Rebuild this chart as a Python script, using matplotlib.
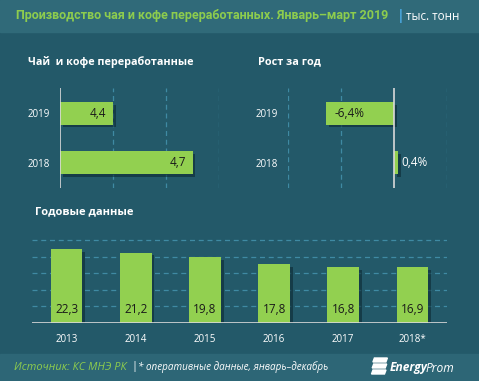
import numpy as np
import matplotlib
matplotlib.use('Agg')
import matplotlib.pyplot as plt
import matplotlib.patheffects as pe
from matplotlib.patches import Rectangle, Polygon

# data
q_years = ['2018', '2019']
q_values = [4.7, 4.4]
growth = [0.4, -6.4]
growth_labels = ['0,4%', '-6,4%']
annual_years = ['2013', '2014', '2015', '2016', '2017', '2018*']
annual_values = [22.3, 21.2, 19.8, 17.8, 16.8, 16.9]

BG = '#235969'
HEAD = '#306a79'
FOOT = '#2d6676'
GREEN = '#92d050'
TITLE_GREEN = '#8dcc4e'
GRID = '#3f8aa3'
FONT = 'Open Sans'

plt.rcParams['font.family'] = [FONT, 'DejaVu Sans']

W, H = 479, 381
fig = plt.figure(figsize=(W / 100, H / 100), dpi=100, facecolor=BG)
renderer = fig.canvas.get_renderer()

def fx(px):
    return px / W

def fy(py):
    return 1 - py / H

def fit(t, width_px):
    # shrink/grow a text so it takes the same width as in the reference
    w = t.get_window_extent(renderer).width
    t.set_fontsize(t.get_fontsize() * width_px / w)
    return t

# header and footer bands
fig.patches.append(Rectangle((0, fy(32)), 1, 32 / H, transform=fig.transFigure,
                             color=HEAD, zorder=0))
fig.patches.append(Rectangle((0, 0), 1, (H - 354) / H, transform=fig.transFigure,
                             color=FOOT, zorder=0))

t = fig.text(fx(16), fy(16), 'Производство чая и кофе переработанных. Январь–март 2019',
             color=TITLE_GREEN, fontsize=9.5, fontweight='bold', va='center', ha='left',
             family=['Roboto', 'Open Sans'])
fit(t, 377)
fig.text(fx(397), fy(16), '|', color='#4aa8e0', fontsize=10, fontweight='bold', va='center')
t = fig.text(fx(406), fy(16), 'тыс. тонн', color='white', fontsize=8.5, va='center')
fit(t, 53)

shadow = [pe.SimplePatchShadow(offset=(2, -2), shadow_rgbFace='#0d2a33', alpha=0.6), pe.Normal()]

def style_hbar(ax):
    ax.set_facecolor('none')
    for s in ax.spines.values():
        s.set_visible(False)
    ax.tick_params(length=0, labelbottom=False, pad=7.2)
    ax.set_ylim(-0.51, 1.51)
    ax.set_yticks([0, 1])
    ax.set_yticklabels(q_years, color='white', fontsize=7)
    ax.xaxis.grid(True, color=GRID, linestyle=(0, (4, 3)), linewidth=0.9)
    ax.set_axisbelow(True)

# left: volume
ax1 = fig.add_axes([fx(60), fy(188), fx(159), 100 / H])
style_hbar(ax1)
ax1.set_xlim(4.2, 4.8)
ax1.set_xticks([4.4, 4.6, 4.8])
bars = ax1.barh([0, 1], [v - 4.2 for v in q_values], left=4.2, height=0.46, color=GREEN,
                zorder=3)
for b in bars:
    b.set_path_effects(shadow)
for i, v in enumerate(q_values):
    ax1.text(v - 0.025, i, f'{v:.1f}'.replace('.', ','), ha='right', va='center',
             fontsize=8.5, color='#1a1a1a', zorder=4)
ax1.axvline(4.2, color='#d9d9d9', linewidth=1.2, zorder=4)
t = fig.text(fx(28), fy(62), 'Чай  и кофе переработанные', color='white', fontsize=8.5,
             fontweight='bold', va='center')
fit(t, 164)

# right: growth
ax2 = fig.add_axes([fx(288), fy(188), fx(159), 100 / H])
style_hbar(ax2)
ax2.set_xlim(-10, 5)
ax2.set_xticks([-10, -5, 5])
bars = ax2.barh([0, 1], growth, height=0.46, color=GREEN, zorder=3)
for b in bars:
    b.set_path_effects(shadow)
for i, (v, lab) in enumerate(zip(growth, growth_labels)):
    if v < 0:
        ax2.text(v + 0.75, i, lab, ha='left', va='center', fontsize=8.5, color='#1a1a1a',
                 zorder=4)
    else:
        ax2.text(v + 0.3, i, lab, ha='left', va='center', fontsize=8.5, color='white', zorder=4)
ax2.axvline(0, color='#d9d9d9', linewidth=1.2, zorder=4)
t = fig.text(fx(258), fy(62), 'Рост за год', color='white', fontsize=8.5, fontweight='bold',
             va='center')
fit(t, 62)

# bottom: annual
ax3 = fig.add_axes([fx(32), fy(323), fx(415), 26 * 3.32 / H])
ax3.set_facecolor('none')
for s in ax3.spines.values():
    s.set_visible(False)
x = np.arange(len(annual_years))
bars = ax3.bar(x, annual_values, width=0.46, color=GREEN, zorder=3)
for b in bars:
    b.set_path_effects(shadow)
for xi, v in zip(x, annual_values):
    ax3.text(xi, 4.2, f'{v:.1f}'.replace('.', ','), ha='center', va='center', fontsize=8.5,
             color='#1a1a1a', zorder=4)
ax3.set_xlim(-0.5, 5.5)
ax3.set_ylim(0, 26)
ax3.set_yticks([5, 10, 15, 20, 25])
ax3.yaxis.grid(True, color=GRID, linestyle=(0, (4, 3)), linewidth=0.9)
ax3.set_axisbelow(True)
ax3.axhline(0, color='#d9d9d9', linewidth=1.2, zorder=4)
ax3.tick_params(length=0, labelleft=False, pad=8)
ax3.set_xticks(x)
ax3.set_xticklabels(annual_years, color='white', fontsize=7)
t = fig.text(fx(35), fy(212), 'Годовые данные', color='white', fontsize=8.5, fontweight='bold',
             va='center')
fit(t, 98)

# footer
t = fig.text(fx(14), fy(367), 'Источник: КС МНЭ РК', color=TITLE_GREEN, fontsize=8,
             style='italic', va='center')
fit(t, 112)
fig.text(fx(131), fy(367), '|', color='white', fontsize=8, va='center')
t = fig.text(fx(138), fy(367), '* оперативные данные, январь–декабрь', color='white',
             fontsize=6.5, style='italic', va='center')
fit(t, 190)

# logo
for k in range(3):
    y0 = 358 + k * 6
    dx = (2 - k) * 0.7
    pts = [(373 + dx, y0), (386 + dx, y0), (384.5 + dx, y0 + 4), (371.5 + dx, y0 + 4)]
    fig.patches.append(Polygon([(fx(px), fy(py)) for px, py in pts], closed=True,
                               transform=fig.transFigure, color='white', zorder=3))
t = fig.text(fx(390), fy(368), 'Energy', color='white', fontsize=9, fontweight='bold',
             style='italic', va='center')
fit(t, 38)
e_right = t.get_window_extent(renderer).x1
t2 = fig.text((e_right - 2.5) / W, fy(368), 'Prom', color='white', fontsize=t.get_fontsize(),
              style='italic', va='center')

fig.savefig('out.png', dpi=100, facecolor=BG)
